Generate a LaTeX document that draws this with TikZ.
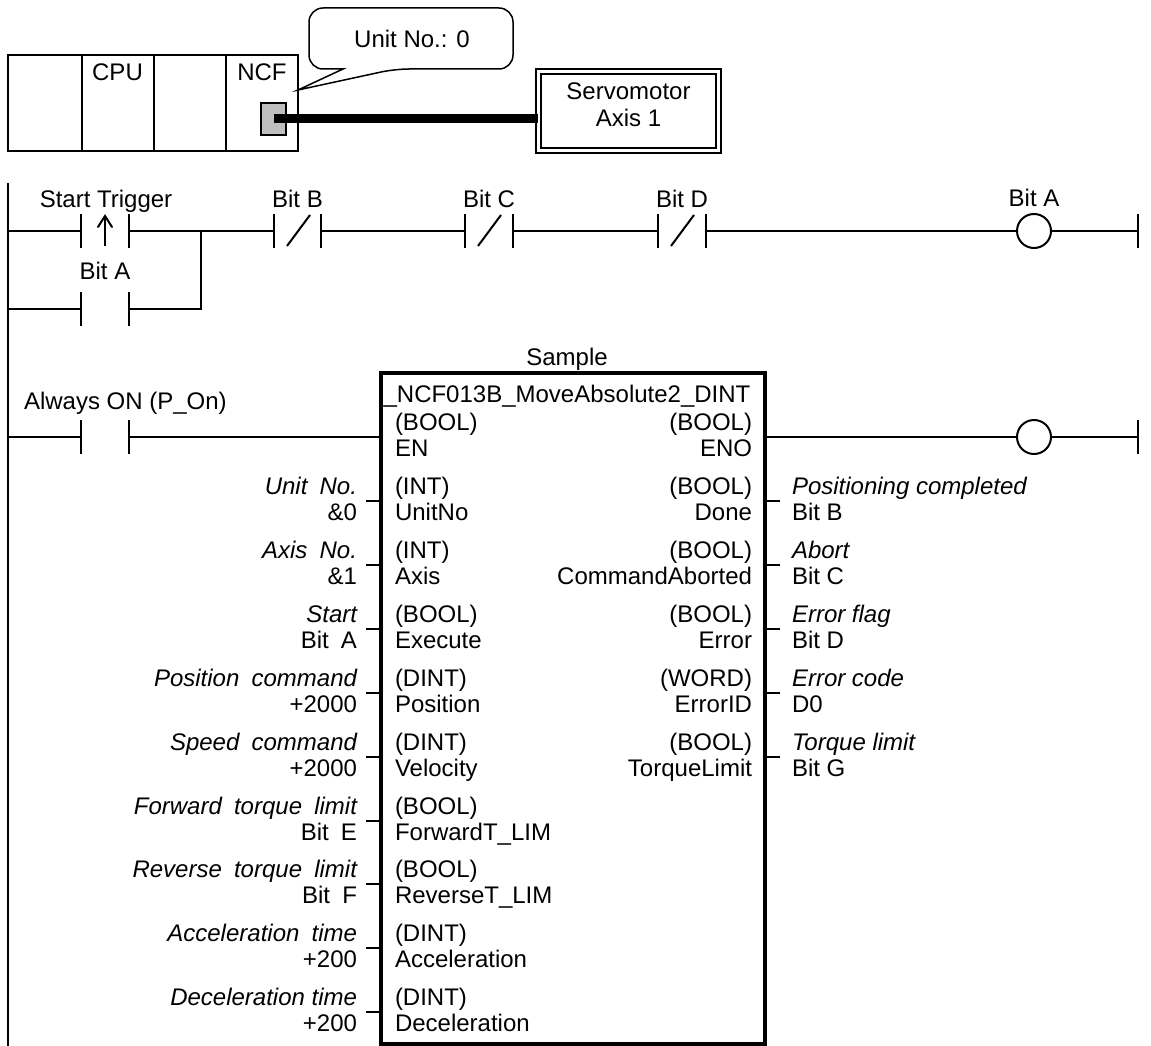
\documentclass[tikz,border=0pt]{standalone}
\usepackage{fontspec}
\setmainfont{Liberation Sans}
\newcommand\bigf{\fontsize{24}{27}\selectfont}
\newcommand\ws{\hspace{12.2pt}}
\begin{document}
\begin{tikzpicture}[x=1pt, y=-1pt, line width=2pt, font=\bigf,
  txt/.style={inner sep=0pt, font=\bigf},
  itxt/.style={inner sep=0pt, font=\bigf\itshape},
  coil/.style={circle, draw, line width=2pt, minimum size=34pt, inner sep=0pt},
  fbbox/.style={draw, line width=4pt, inner sep=0pt, minimum width=384pt, minimum height=671pt},
  rackbox/.style={draw, line width=2pt, inner sep=0pt, minimum width=290pt, minimum height=96pt},
  portbox/.style={draw, line width=1.5pt, fill=black!25, inner sep=0pt, minimum width=25pt, minimum height=32pt},
  servobox/.style={draw, line width=2pt, double, double distance=3pt, inner sep=0pt, minimum width=180pt, minimum height=79pt},
  cable/.style={line width=9pt}]
\useasboundingbox (0,0) rectangle (1151,1046);

% ---------- PLC rack ----------
\node[rackbox] (rack) at (153,103.5) {};
\coordinate (d1t) at (82,55.5);  \coordinate (d1b) at (82,151.5);
\coordinate (d2t) at (154,55.5); \coordinate (d2b) at (154,151.5);
\coordinate (d3t) at (226,55.5); \coordinate (d3b) at (226,151.5);
\draw (d1t) -- (d1b);
\draw (d2t) -- (d2b);
\draw (d3t) -- (d3b);
\node[txt, anchor=base] (cpu) at (117.5,81) {CPU};
\node[txt, anchor=base] (ncf) at (262,81) {NCF};
\node[portbox] (port) at (273.5,119) {};

% ---------- callout ----------
\draw[line width=1.5pt] (343,69) [rounded corners=14pt] -- (309,69) -- (309,8) -- (513,8) -- (513,69) -- (395,69) [sharp corners] -- (298,90) -- cycle;
\node[txt, anchor=base] (unitno) at (412,48) {Unit No.: 0};

% ---------- servomotor ----------
\node[servobox] (servo) at (628.5,111) {};
\node[txt, align=center] (servotxt) at (628.5,105) {Servomotor\\Axis 1};
\draw[cable] (port.center) -- (port.center -| servo.west);

% ---------- left rail ----------
\coordinate (railtop) at (8,183);
\coordinate (railbot) at (8,1046);
\draw (railtop) -- (railbot);

% ---------- rung 1 ----------
\coordinate (r1) at (8,231);
\coordinate (st1) at (81,231);  \coordinate (st2) at (129,231);
\coordinate (bb1) at (274,231); \coordinate (bb2) at (321,231);
\coordinate (bc1) at (465,231); \coordinate (bc2) at (513,231);
\coordinate (bd1) at (658,231); \coordinate (bd2) at (706,231);
\coordinate (jn1) at (201,231);
\node[coil] (cA) at (1034,231) {};
\coordinate (rr1) at (1138,231);
\coordinate (r2) at (8,309);
\coordinate (ba1) at (81,309);  \coordinate (ba2) at (129,309);
\coordinate (jn2) at (201,309);

\draw (r1) -- (st1);
\draw (st2) -- (bb1);
\draw (bb2) -- (bc1);
\draw (bc2) -- (bd1);
\draw (bd2) -- (cA);
\draw (cA) -- (rr1);
\draw (r2) -- (ba1);
\draw (ba2) -- (jn2) -- (jn1);
\foreach \c in {st1,st2,bb1,bb2,bc1,bc2,bd1,bd2,ba1,ba2,rr1}
  \draw ([yshift=17pt]\c) -- ([yshift=-17pt]\c);
% negated contacts
\foreach \c in {bb1,bc1,bd1}
  \draw ([xshift=13pt,yshift=-15pt]\c) -- ([xshift=36pt,yshift=16pt]\c);
% rising edge arrow
\coordinate (arb) at (105,246);
\coordinate (art) at (105,216);
\draw (arb) -- (art);
\draw[line cap=round] ([xshift=-7pt,yshift=-11pt]art) -- (art) -- ([xshift=7pt,yshift=-11pt]art);

\node[txt, anchor=base] (lst) at (106,207) {Start Trigger};
\node[txt, anchor=base] (lbb) at (297.5,207) {Bit B};
\node[txt, anchor=base] (lbc) at (489,207) {Bit C};
\node[txt, anchor=base] (lbd) at (682,207) {Bit D};
\node[txt, anchor=base] (lca) at (1034,206) {Bit A};
\node[txt, anchor=base] (lba) at (105,279) {Bit A};

% ---------- function block ----------
\node[fbbox] (fb) at (573,708.5) {};
\node[txt, anchor=base] (sample) at (567,365) {Sample};
\node[txt, anchor=base] (title) at (567,402) {\_NCF013B\_MoveAbsolute2\_DINT};

% EN rung
\coordinate (r3) at (8,437);
\coordinate (ao1) at (81,437); \coordinate (ao2) at (129,437);
\node[coil] (cB) at (1034,437) {};
\coordinate (rr2) at (1138,437);
\draw (r3) -- (ao1);
\draw (ao2) -- (ao2 -| fb.west);
\draw (fb.east |- ao2) -- (cB);
\draw (cB) -- (rr2);
\foreach \c in {ao1,ao2,rr2}
  \draw ([yshift=17pt]\c) -- ([yshift=-17pt]\c);
\node[txt, anchor=base west] (lao) at (23,409) {Always ON (P\_On)};

\node[txt, anchor=base west] (enT) at (394,430) {(BOOL)};
\node[txt, anchor=base west] (enN) at (394,456) {EN};
\node[txt, anchor=base east] (enoT) at (753,430) {(BOOL)};
\node[txt, anchor=base east] (enoN) at (753,456) {ENO};

% input pins
\foreach \y/\a/\b/\c/\d [count=\i] in {
  485/Unit\ws No./\&0/(INT)/UnitNo,
  549/Axis\ws No./\&1/(INT)/Axis,
  613/Start/Bit\ws A/(BOOL)/Execute,
  677/Position\ws command/+2000/(DINT)/Position,
  741/Speed\ws command/+2000/(DINT)/Velocity,
  805/Forward\ws torque\ws limit/Bit\ws E/(BOOL)/ForwardT\_LIM,
  868/Reverse\ws torque\ws limit/Bit\ws F/(BOOL)/ReverseT\_LIM,
  932/Acceleration\ws time/+200/(DINT)/Acceleration,
  996/Deceleration time/+200/(DINT)/Deceleration}{
  \node[itxt, anchor=base east] (ina\i) at (358,\y+9) {\a};
  \node[txt, anchor=base east] (inb\i) at (358,\y+35) {\b};
  \node[txt, anchor=base west] (inc\i) at (394,\y+9) {\c};
  \node[txt, anchor=base west] (ind\i) at (394,\y+35) {\d};
  \coordinate (tin\i) at (0,\y+16);
  \draw (fb.west |- tin\i) -- ++(-13,0);
}

% output pins
\foreach \y/\a/\b/\c/\d [count=\i] in {
  485/(BOOL)/Done/Positioning completed/Bit B,
  549/(BOOL)/CommandAborted/Abort/Bit C,
  613/(BOOL)/Error/Error flag/Bit D,
  677/(WORD)/ErrorID/Error code/D0,
  741/(BOOL)/TorqueLimit/Torque limit/Bit G}{
  \node[txt, anchor=base east] (outa\i) at (753,\y+9) {\a};
  \node[txt, anchor=base east] (outb\i) at (753,\y+35) {\b};
  \node[itxt, anchor=base west] (outc\i) at (791,\y+9) {\c};
  \node[txt, anchor=base west] (outd\i) at (791,\y+35) {\d};
  \coordinate (tout\i) at (0,\y+16);
  \draw (fb.east |- tout\i) -- ++(13,0);
}
\end{tikzpicture}
\end{document}
